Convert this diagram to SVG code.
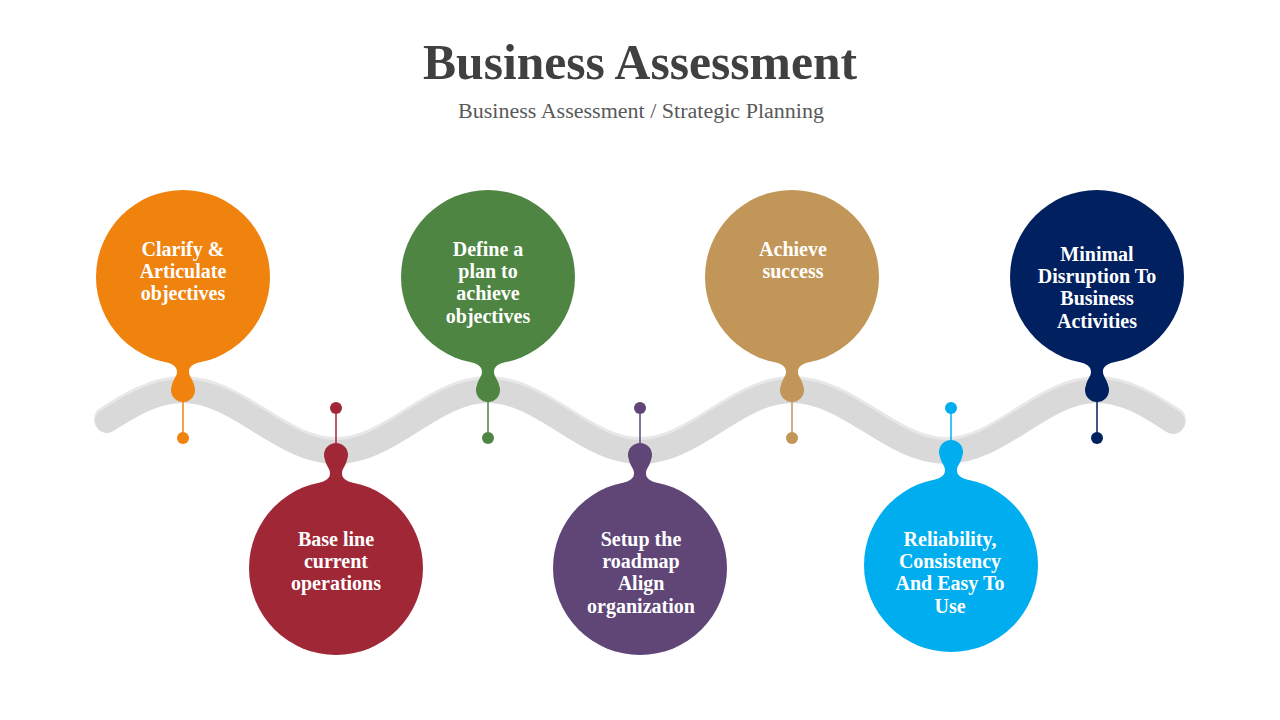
<svg xmlns="http://www.w3.org/2000/svg" xmlns:xlink="http://www.w3.org/1999/xlink" width="1280" height="720" viewBox="0 0 1280 720">
<style>
.title{font-family:"Liberation Serif","DejaVu Serif",serif;font-weight:bold;font-size:50px;fill:#404040;text-anchor:middle}
.sub{font-family:"Liberation Serif","DejaVu Serif",serif;font-size:20px;fill:#595959;text-anchor:middle}
.lbl{font-family:"Liberation Serif","DejaVu Serif",serif;font-weight:bold;font-size:20px;fill:#ffffff;text-anchor:middle}
.wave{fill:none;stroke-linecap:round}
</style>
<defs>
<g id="drop">
<circle cx="0" cy="0" r="87"/>
<path d="M-30,81 C-12,86 -6,88 -6,95 C-6,100 -11,103 -11,110 L11,110 C11,103 6,100 6,95 C6,88 12,86 30,81 Z"/>
<circle cx="0" cy="113" r="12"/>
</g>
</defs>
<rect width="1280" height="720" fill="#ffffff"/>
<text class="title" x="640" y="79" textLength="434" lengthAdjust="spacingAndGlyphs">Business Assessment</text>
<text class="sub" x="641" y="118" textLength="366" lengthAdjust="spacingAndGlyphs">Business Assessment / Strategic Planning</text>
<g id="connectors">
<path class="wave" stroke="#e8e8e8" stroke-width="26" transform="translate(0,-2)" d="M107,421 C127,408 153,391 183,391 C238,391 281,452 336,452 C391,452 433,391 488,391 C543,391 585,452 640,452 C695,452 737,391 792,391 C849,391 891,452 946,452 C1001,452 1042,391 1097,391 C1127,391 1153,409 1173,422"/>
<path class="wave" stroke="#d9d9d9" stroke-width="24" d="M107,421 C127,408 153,391 183,391 C238,391 281,452 336,452 C391,452 433,391 488,391 C543,391 585,452 640,452 C695,452 737,391 792,391 C849,391 891,452 946,452 C1001,452 1042,391 1097,391 C1127,391 1153,409 1173,422"/>
</g>
<g id="node1">
<line x1="183" y1="400" x2="183" y2="438" stroke="#f0820e" stroke-width="1.5"/>
<circle cx="183" cy="438" r="6" fill="#f0820e"/>
<use xlink:href="#drop" href="#drop" fill="#f0820e" transform="translate(183,277)"/>
<text class="lbl" x="183"><tspan x="183" y="256">Clarify &amp;</tspan><tspan x="183" y="278">Articulate</tspan><tspan x="183" y="300">objectives</tspan></text>
</g>
<g id="node2">
<line x1="336" y1="408" x2="336" y2="446" stroke="#a02736" stroke-width="1.5"/>
<circle cx="336" cy="408" r="6" fill="#a02736"/>
<use xlink:href="#drop" href="#drop" fill="#a02736" transform="translate(336,568) scale(1,-1)"/>
<text class="lbl"><tspan x="336" y="546">Base line</tspan><tspan x="336" y="568">current</tspan><tspan x="336" y="590">operations</tspan></text>
</g>
<g id="node3">
<line x1="488" y1="400" x2="488" y2="438" stroke="#4e8542" stroke-width="1.5"/>
<circle cx="488" cy="438" r="6" fill="#4e8542"/>
<use xlink:href="#drop" href="#drop" fill="#4e8542" transform="translate(488,277)"/>
<text class="lbl"><tspan x="488" y="256">Define a</tspan><tspan x="488" y="278">plan to</tspan><tspan x="488" y="300">achieve</tspan><tspan x="488" y="323">objectives</tspan></text>
</g>
<g id="node4">
<line x1="640" y1="408" x2="640" y2="446" stroke="#5f4677" stroke-width="1.5"/>
<circle cx="640" cy="408" r="6" fill="#5f4677"/>
<use xlink:href="#drop" href="#drop" fill="#5f4677" transform="translate(640,568) scale(1,-1)"/>
<text class="lbl"><tspan x="641" y="546">Setup the</tspan><tspan x="641" y="568">roadmap</tspan><tspan x="641" y="590">Align</tspan><tspan x="641" y="613">organization</tspan></text>
</g>
<g id="node5">
<line x1="792" y1="400" x2="792" y2="438" stroke="#c29658" stroke-width="1.5"/>
<circle cx="792" cy="438" r="6" fill="#c29658"/>
<use xlink:href="#drop" href="#drop" fill="#c29658" transform="translate(792,277)"/>
<text class="lbl"><tspan x="793" y="256">Achieve</tspan><tspan x="793" y="278">success</tspan></text>
</g>
<g id="node6">
<line x1="951" y1="408" x2="951" y2="443" stroke="#00aeef" stroke-width="1.5"/>
<circle cx="951" cy="408" r="6" fill="#00aeef"/>
<use xlink:href="#drop" href="#drop" fill="#00aeef" transform="translate(951,565) scale(1,-1)"/>
<text class="lbl"><tspan x="950" y="546">Reliability,</tspan><tspan x="950" y="568">Consistency</tspan><tspan x="950" y="590">And Easy To</tspan><tspan x="950" y="613">Use</tspan></text>
</g>
<g id="node7">
<line x1="1097" y1="400" x2="1097" y2="438" stroke="#00205f" stroke-width="1.5"/>
<circle cx="1097" cy="438" r="6" fill="#00205f"/>
<use xlink:href="#drop" href="#drop" fill="#00205f" transform="translate(1097,277)"/>
<text class="lbl"><tspan x="1097" y="261">Minimal</tspan><tspan x="1097" y="283">Disruption To</tspan><tspan x="1097" y="305">Business</tspan><tspan x="1097" y="328">Activities</tspan></text>
</g>
</svg>
